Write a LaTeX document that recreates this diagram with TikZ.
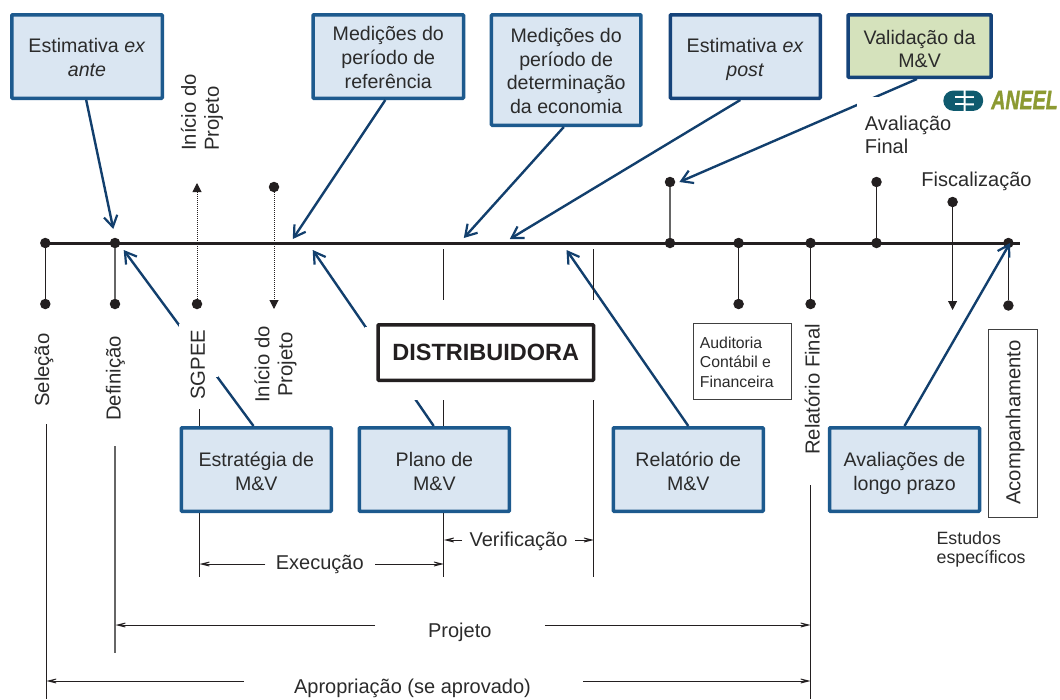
\documentclass[tikz,border=0pt]{standalone}
\usepackage{fontspec}
\setmainfont{Liberation Sans}
\usetikzlibrary{arrows.meta}
\definecolor{txt}{HTML}{2B2B2B}
\definecolor{bfill}{HTML}{DAE6F2}
\definecolor{bline}{HTML}{1D5A8E}
\definecolor{bnavy}{HTML}{15437A}
\definecolor{gfill}{HTML}{D5E2BC}
\definecolor{navy}{HTML}{123F6D}
\definecolor{dk}{HTML}{231F20}
\definecolor{teal}{HTML}{0F5A6E}
\definecolor{olive}{HTML}{8C9A32}
\newcommand\topr{\rule{0pt}{20.2pt}}
\newcommand\lowr{\rule{0pt}{21.8pt}}
\newcommand\botr{\rule[-4.4pt]{0pt}{1pt}}
\tikzset{
 box/.style={draw=bline,line width=3.5pt,fill=bfill,rounded corners=0.8pt,align=center,text=txt,inner sep=0pt,
   font=\fontsize{19.6}{23.6}\selectfont},
 lab/.style={text=txt,inner sep=0pt,font=\fontsize{20}{23.6}\selectfont},
 vlab/.style={lab,rotate=90,font=\fontsize{20.3}{23}\selectfont},
 small/.style={text=txt,inner sep=0pt,align=left,font=\fontsize{15.8}{19.8}\selectfont},
 dot/.style={circle,fill=dk,inner sep=0pt,minimum size=10.5pt},
 navyarrow/.style={draw=navy,line width=2.4pt,-{Straight Barb[length=11pt,width=13.5pt,line width=2.2pt]}},
 thin/.style={draw=dk,line width=1pt},
 gthin/.style={draw=black!60,line width=1.5pt},
 dim/.style={draw=dk,line width=1pt,-{Stealth[length=15pt,width=7.5pt,inset=9pt,fill=white,line width=.8pt]}},
 tri/.style={draw=dk,line width=1pt,-{Triangle[length=9pt,width=9pt,fill=dk]}},
 dotline/.style={tri,densely dotted},
 patch/.style={fill=white,draw=none},
}
\begin{document}
\begin{tikzpicture}[x=1pt,y=-1pt]
\useasboundingbox (0,0) rectangle (1060,699);
% boxes
\node[box,minimum width=150.5pt,minimum height=83.5pt] (exante) at (87,56.5) {\topr Estimativa \textit{ex}\\\textit{ante}\botr};
\node[box,minimum width=150.5pt,minimum height=83.5pt] (ref) at (388.3,56.5) {\topr Medições do\\período de\\referência\botr};
\node[box,minimum width=149.5pt,minimum height=110.5pt] (det) at (566.2,70) {\topr Medições do\\período de\\determinação\\da economia\botr};
\node[box,draw=bnavy,minimum width=150pt,minimum height=83.5pt] (expost) at (745.3,56.5) {\topr Estimativa \textit{ex}\\\textit{post}\botr};
\node[box,draw=bnavy,fill=gfill,minimum width=143pt,minimum height=62.5pt] (valid) at (919.6,46) {\rule{0pt}{24.4pt}Validação da\\M\&V\botr};
\node[box,minimum width=150pt,minimum height=83.5pt] (estr) at (256.3,469.5) {\lowr Estratégia de\\M\&V\botr};
\node[box,minimum width=150pt,minimum height=83.5pt] (plano) at (434.4,469.5) {\lowr Plano de\\M\&V\botr};
\node[box,minimum width=150pt,minimum height=83.5pt] (relat) at (688.3,469.5) {\lowr Relatório de\\M\&V\botr};
\node[box,minimum width=150pt,minimum height=83.5pt] (aval) at (904.5,469.5) {\lowr Avaliações de\\longo prazo\botr};
% free ends
\coordinate (mainL) at (45.3,243);
\coordinate (mainR) at (1020,243);
\coordinate (tExante) at (113.3,229);
\coordinate (tRef) at (292.8,239);
\coordinate (tDet) at (463.8,238);
\coordinate (tPost) at (509.8,239);
\coordinate (tValid) at (679.4,182);
\coordinate (tEstr) at (123.7,250);
\coordinate (tPlano) at (312.7,250);
\coordinate (tRelat) at (566.5,250);
\coordinate (tAval) at (1010,243);
% main line
\draw[draw=dk,line width=3pt] (mainL) -- (mainR);
% dots
\foreach \n/\x/\y in {a/45.3/243,b/115/243,c/670/243,d/738.6/243,e/810.6/243,f/876.5/243,g/1008.4/243,
 a2/45.3/304,b2/115/304,sg/197/304,ini/274/187,d2/738.6/304,e2/810.6/304,h/1008.4/305.5,
 c2/670/182,f2/876.5/182,fi/952.6/202}
  \node[dot] (\n) at (\x,\y) {};
\draw[thin] (a) -- (a2);
\draw[gthin] (b) -- (b2);
\draw[gthin] (c) -- (c2);
\draw[thin] (d) -- (d2);
\draw[thin] (e) -- (e2);
\draw[thin] (f) -- (f2);
\draw[thin] (g) -- (h);
\coordinate (sgTip) at (197,183);
\coordinate (iniTip) at (274,309);
\coordinate (fiTip) at (952.6,310);
\draw[dotline] (sg) -- (sgTip);
\draw[dotline] (ini) -- (iniTip);
\draw[tri] (fi) -- (fiTip);
% navy connectors
\draw[navyarrow] ([xshift=-.8pt]exante.south) -- (tExante);
\draw[navyarrow] ([xshift=-3pt]ref.south) -- (tRef);
\draw[navyarrow] ([xshift=-2.4pt]det.south) -- (tDet);
\draw[navyarrow] ([xshift=-5pt]expost.south) -- (tPost);
\draw[navyarrow] ([xshift=-2.6pt]valid.south) -- (tValid);
\draw[navyarrow] ([xshift=-2.8pt]estr.north) -- (tEstr);
\draw[navyarrow] ([xshift=-.7pt]plano.north) -- (tPlano);
\draw[navyarrow] (relat.north) -- (tRelat);
\draw[navyarrow] (aval.north) -- (tAval);
% white gaps in the connectors
\fill[patch] (856.6,97) rectangle (932,160);
\fill[patch] (179,324) rectangle (218,377);
\fill[patch] (365,326.5) rectangle (600,400);
% distribuidora
\node[draw=dk,line width=3.5pt,fill=white,minimum width=215.5pt,minimum height=55.5pt,inner sep=0pt,rounded corners=0.8pt,text=dk,
  font=\fontsize{23.5}{26}\selectfont\bfseries] (dist) at (485.8,352.5) {DISTRIBUIDORA};
% side boxes
\node[draw=black!75,line width=1pt,fill=white,minimum width=98pt,minimum height=76pt,inner sep=0pt] (audbox) at (742.8,361.5) {};
\node[small,anchor=west] (aud) at (699.7,362.3) {Auditoria\\Contábil e\\Financeira};
\node[draw=black!75,line width=1pt,fill=white,minimum width=48.4pt,minimum height=188pt,inner sep=0pt] (acobox) at (1013.1,423.5) {};
\node[vlab,anchor=west] (aco) at (1015,505) {Acompanhamento};
% thin vertical ticks
\foreach \x/\a/\b in {443.9/249/300,593.9/249/300,443.9/400/426,443.9/513/577,593.9/400/577,199.5/409/426,199.5/513/577,46.3/424/699,810.6/485/699}
  {\coordinate (p) at (\x,\a); \coordinate (q) at (\x,\b); \draw[thin] (p) -- (q);}
\coordinate (p) at (115,446); \coordinate (q) at (115,653); \draw[gthin] (p) -- (q);
% dimension arrows
\foreach \fx/\tx/\y in {265.4/199.5/564,375/443.9/564,462/443.9/540,575/593.9/540,375/115.5/625,544.9/810.6/625,244/46.3/681,583/810.6/681}
  {\coordinate (p) at (\fx,\y); \coordinate (q) at (\tx,\y); \draw[dim] (p) -- (q);}
% labels
\node[lab] (ex) at (319.8,564) {Execução};
\node[lab] (ve) at (518.5,541) {Verificação};
\node[lab] (pr) at (459.8,632) {Projeto};
\node[lab] (ap) at (412.5,688) {Apropriação (se aprovado)};
\node[lab,anchor=west,align=left] (af) at (864.7,135) {Avaliação\\Final};
\node[lab] (fs) at (976.5,181) {Fiscalização};
\node[small,anchor=west,font=\fontsize{17.8}{19}\selectfont] (eu) at (936.4,549.5) {Estudos\\específicos};
\node[vlab,anchor=west] (se) at (44,407) {Seleção};
\node[vlab,anchor=west] (de) at (115.5,421) {Definição};
\node[vlab,anchor=west] (sge) at (197.8,400) {SGPEE};
\node[vlab,anchor=west,align=left] (i1) at (202,151) {Início do\\Projeto};
\node[vlab,anchor=west,align=center] (i2) at (275.5,403) {Início do\\Projeto};
\node[vlab,anchor=west] (rf) at (812.3,455) {Relatório Final};
% logo
\fill[teal] (963.5,90.5) -- (953.5,90.5) arc[start angle=90,end angle=270,radius=10.2pt] -- (963.5,110.9) -- cycle;
\fill[white] (955,96) rectangle (965,98);
\fill[white] (955,103.4) rectangle (965,105.4);
\fill[teal] (965.5,90.5) -- (973,90.5) arc[start angle=90,end angle=-90,radius=10.2pt] -- (965.5,110.9) -- (965.5,105.4) -- (974,105.4) -- (974,103.4) -- (965.5,103.4) -- (965.5,98) -- (974,98) -- (974,96) -- (965.5,96) -- cycle;
\node[inner sep=0pt,text=olive,xscale=.74,font=\fontsize{26.5}{28}\selectfont\bfseries\itshape\addfontfeature{FakeBold=1.5}] (logo) at (1024.5,100) {ANEEL};
\end{tikzpicture}
\end{document}
